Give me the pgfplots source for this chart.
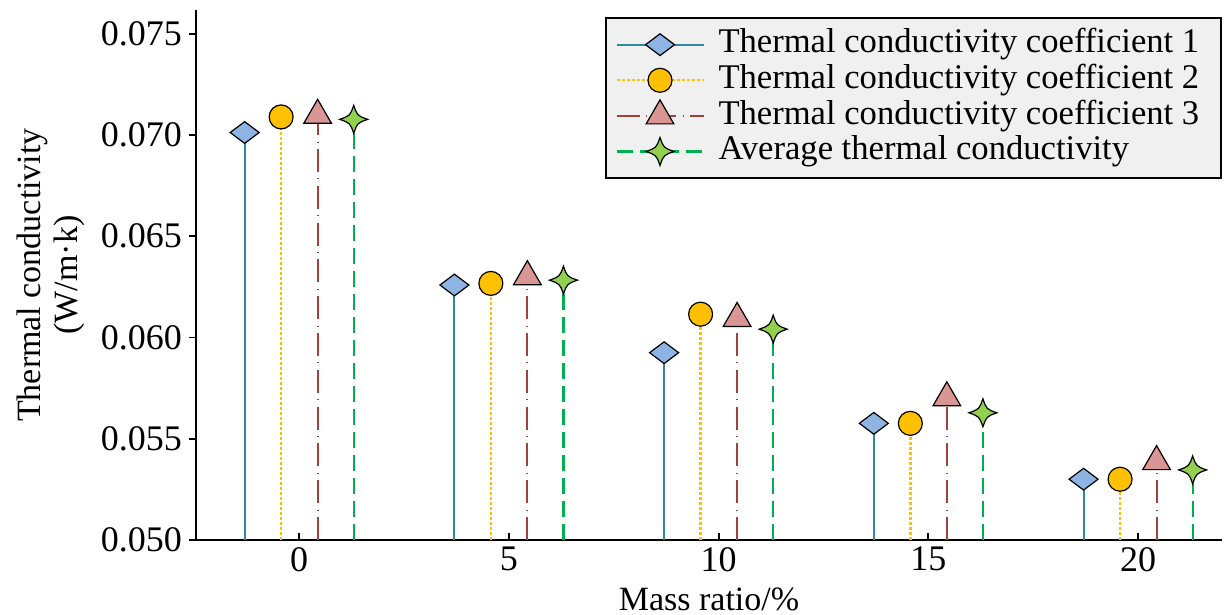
\documentclass[border=0pt]{standalone}
\usepackage{pgfplots}
\pgfplotsset{compat=1.18}
\usepackage{fontspec}
\setmainfont{Liberation Serif}
\definecolor{c1line}{HTML}{3189A0}
\definecolor{c1fill}{HTML}{8EB4E3}
\definecolor{c2line}{HTML}{FFC000}
\definecolor{c2fill}{HTML}{FFC000}
\definecolor{c3line}{HTML}{A0413B}
\definecolor{c3fill}{HTML}{D99694}
\definecolor{c4line}{HTML}{00B050}
\definecolor{c4fill}{HTML}{92D050}
\definecolor{legbg}{HTML}{F0F0F0}
\pgfdeclareplotmark{star4}{%
  \pgfpathmoveto{\pgfqpoint{0pt}{\pgfplotmarksize}}%
  \pgfpathcurveto{\pgfqpoint{0.26\pgfplotmarksize}{0.26\pgfplotmarksize}}{\pgfqpoint{0.26\pgfplotmarksize}{0.26\pgfplotmarksize}}{\pgfqpoint{\pgfplotmarksize}{0pt}}%
  \pgfpathcurveto{\pgfqpoint{0.26\pgfplotmarksize}{-0.26\pgfplotmarksize}}{\pgfqpoint{0.26\pgfplotmarksize}{-0.26\pgfplotmarksize}}{\pgfqpoint{0pt}{-\pgfplotmarksize}}%
  \pgfpathcurveto{\pgfqpoint{-0.26\pgfplotmarksize}{-0.26\pgfplotmarksize}}{\pgfqpoint{-0.26\pgfplotmarksize}{-0.26\pgfplotmarksize}}{\pgfqpoint{-\pgfplotmarksize}{0pt}}%
  \pgfpathcurveto{\pgfqpoint{-0.26\pgfplotmarksize}{0.26\pgfplotmarksize}}{\pgfqpoint{-0.26\pgfplotmarksize}{0.26\pgfplotmarksize}}{\pgfqpoint{0pt}{\pgfplotmarksize}}%
  \pgfpathclose
  \pgfusepathqfillstroke
}
\pgfplotsset{
  mylegend/.style={legend image code/.code={%
    \draw[mark repeat=2,mark phase=2,##1,sharp plot] plot coordinates {(0pt,0pt)(21.75pt,0pt)(43.5pt,0pt)};}},
}
\begin{document}
\begin{tikzpicture}
\begin{axis}[
  scale only axis,
  width=513pt, height=265pt,
  xmin=-2.46, xmax=22,
  ymin=0.05, ymax=0.07617,
  axis x line*=bottom, axis y line*=left,
  axis line style={line width=0.9pt, -},
  xtick={0,5,10,15,20},
  ytick={0.050,0.055,0.060,0.065,0.070,0.075},
  x tick style={line width=0.9pt, black},
  y tick style={line width=0.9pt, black},
  xtick align=inside, ytick align=outside,
  major tick length=3.5pt,
  tick label style={font=\fontsize{18}{20}\selectfont},
  /pgf/number format/assume math mode=true,
  yticklabel style={/pgf/number format/.cd, fixed, fixed zerofill, precision=3},
  scaled y ticks=false,
  xlabel={Mass ratio/\%},
  ylabel={Thermal conductivity\\(W/m·k)},
  label style={font=\fontsize{17}{18.5}\selectfont},
  xlabel style={at={([yshift=-29.5pt]axis description cs:0.5,0)}, anchor=center},
  ylabel style={at={([xshift=-72.5pt]axis description cs:0,0.5)}, anchor=center, align=center},
  legend style={at={(1,0.987)}, anchor=north east, fill=legbg, draw=black, line width=1pt,
    font=\fontsize{17.3}{19}\selectfont, row sep=0pt, inner xsep=4.5pt, inner ysep=4.5pt,
    nodes={text height=11.6pt, text depth=3.4pt, inner sep=1.4pt},
    /tikz/every odd column/.append style={column sep=5.5pt}},
  legend cell align=left,
  clip=true,
]
\addplot+[ycomb, color=c1line, line width=1pt, solid,
  mark=diamond*, mark size=7.25pt, mark options={rotate=90, fill=c1fill, draw=black, line width=0.6pt, solid}, mylegend]
  coordinates {(-1.3,0.07012) (3.7,0.06259) (8.7,0.05925) (13.7,0.05576) (18.7,0.05300)};
\addlegendentry{Thermal conductivity coefficient 1\hspace*{5pt}}
\addplot+[ycomb, color=c2line, line width=1.2pt, dash pattern=on 1.5pt off 1pt,
  mark=*, mark size=6pt, mark options={fill=c2fill, draw=black, line width=0.6pt, solid}, mylegend]
  coordinates {(-0.43,0.07089) (4.57,0.06267) (9.57,0.06115) (14.57,0.05576) (19.57,0.05300)};
\addlegendentry{Thermal conductivity coefficient 2\hspace*{5pt}}
\addplot+[ycomb, color=c3line, line width=1pt, dash pattern=on 11.5pt off 3.2pt on 0.5pt off 3.2pt,
  mark=triangle*, mark size=8pt, mark options={fill=c3fill, draw=black, line width=0.6pt, solid}, mylegend]
  coordinates {(0.44,0.07097) (5.44,0.06300) (10.44,0.06094) (15.44,0.05702) (20.44,0.05387)};
\addlegendentry{Thermal conductivity coefficient 3\hspace*{5pt}}
\addplot+[ycomb, color=c4line, line width=1.1pt, dash pattern=on 8pt off 3.5pt,
  mark=star4, mark size=7pt, mark options={fill=c4fill, draw=black, line width=0.6pt, solid}, mylegend]
  coordinates {(1.3,0.07077) (6.3,0.06283) (11.3,0.06041) (16.3,0.05628) (21.3,0.05346)};
\addlegendentry{Average thermal conductivity}
\end{axis}
\pgfresetboundingbox
\path[use as bounding box] (-98pt,-37.5pt) rectangle (515pt,270pt);
\end{tikzpicture}
\end{document}
